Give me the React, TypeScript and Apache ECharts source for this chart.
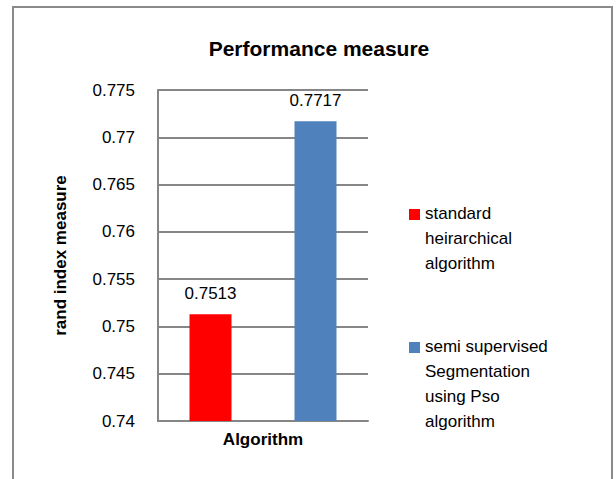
import React, { useEffect, useRef } from "react";
import * as echarts from "echarts";

const categories = ["Algorithm"];
const seriesNames = [
  "standard heirarchical algorithm",
  "semi supervised Segmentation using Pso algorithm",
];
const legendLines = [
  ["standard", "heirarchical", "algorithm"],
  ["semi supervised", "Segmentation", "using Pso", "algorithm"],
];
const seriesValues = [[0.7513], [0.7717]];
const seriesColors = ["#FF0000", "#4F81BD"];
const yMin = 0.74;
const yMax = 0.775;
const yInterval = 0.005;

const FONT = "'Liberation Sans', Arial, sans-serif";

export default function App() {
  const ref = useRef<HTMLDivElement>(null);
  useEffect(() => {
    if (!ref.current) return;
    const chart = echarts.init(ref.current, null, { renderer: "svg" });
    const legendTops = [201, 334];
    const iconTops = [209, 342];
    const graphics: any[] = [
      {
        type: "rect",
        shape: { x: 13, y: 7, width: 599, height: 520 },
        style: { fill: "none", stroke: "#8a8a8a", lineWidth: 2 },
        silent: true,
      },
    ];
    seriesNames.forEach((_, i) => {
      graphics.push({
        type: "rect",
        shape: { x: 409, y: iconTops[i], width: 11, height: 11 },
        style: { fill: seriesColors[i] },
      });
      graphics.push({
        type: "text",
        x: 425,
        y: legendTops[i],
        style: {
          text: legendLines[i].join("\n"),
          fontSize: 17,
          fontFamily: FONT,
          lineHeight: 25,
          fill: "#000",
          verticalAlign: "top",
          align: "left",
        },
      });
    });
    chart.setOption({
      animation: false,
      backgroundColor: "#fff",
      title: {
        text: "Performance measure",
        left: 314,
        top: 33,
        textAlign: "center",
        textStyle: {
          fontFamily: FONT,
          fontSize: 21,
          fontWeight: "bold",
          color: "#000",
        },
      },
      grid: { left: 158, top: 90, right: 248, bottom: 58, containLabel: false },
      xAxis: {
        type: "category",
        data: categories,
        axisLine: { show: true, lineStyle: { color: "#868686", width: 2 } },
        axisTick: { show: false },
        axisLabel: {
          fontFamily: FONT,
          fontSize: 17,
          fontWeight: "bold",
          color: "#000",
          margin: 10,
        },
      },
      yAxis: {
        type: "value",
        min: yMin,
        max: yMax,
        interval: yInterval,
        name: "rand index measure",
        nameLocation: "middle",
        nameRotate: 90,
        nameGap: 89,
        nameTextStyle: {
          fontFamily: FONT,
          fontSize: 17,
          fontWeight: "bold",
          color: "#000",
        },
        axisLine: { show: true, lineStyle: { color: "#868686", width: 2 } },
        axisTick: { show: false },
        splitLine: { show: true, lineStyle: { color: "#868686", width: 2 } },
        axisLabel: {
          fontFamily: FONT,
          fontSize: 17,
          color: "#000",
          margin: 23,
          formatter: (v: number) => String(+v.toFixed(3)),
        },
      },
      series: seriesNames.map((name, i) => ({
        name,
        type: "bar",
        data: seriesValues[i],
        barWidth: 42,
        barGap: "150%",
        itemStyle: { color: seriesColors[i] },
        label: {
          show: true,
          position: "top",
          distance: 12,
          fontFamily: FONT,
          fontSize: 17,
          color: "#000",
          formatter: (p: any) => String(p.value),
        },
      })),
      graphic: graphics,
    });
    return () => chart.dispose();
  }, []);
  return (
    <div
      ref={ref}
      style={{ position: "fixed", left: 0, top: 0, width: 616, height: 479 }}
    />
  );
}
